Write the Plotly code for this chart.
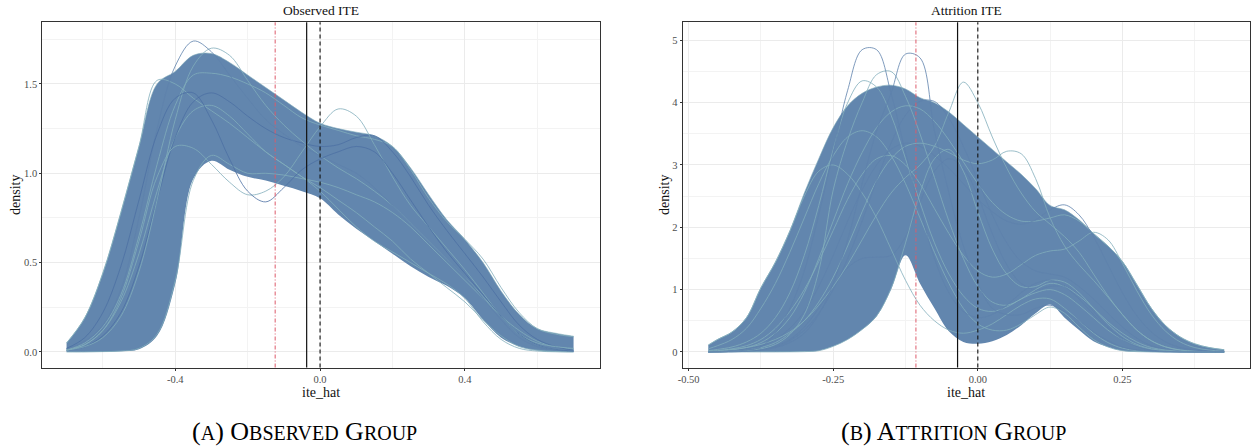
import plotly.graph_objects as go

# ---------------- data: Observed ITE panel (densities on a common grid) ----------------
OBS_X = [-0.70, -0.65, -0.60, -0.55, -0.50, -0.45, -0.40, -0.35, -0.30, -0.25, -0.20, -0.15,
         -0.10, -0.05, 0.00, 0.05, 0.10, 0.15, 0.20, 0.25, 0.30, 0.35, 0.40, 0.45, 0.50,
         0.55, 0.60, 0.65, 0.70]
obs_upper = [0.05, 0.19, 0.44, 0.78, 1.15, 1.50, 1.57, 1.66, 1.67, 1.62, 1.55, 1.48, 1.41, 1.34,
             1.28, 1.25, 1.23, 1.21, 1.15, 1.03, 0.88, 0.74, 0.63, 0.50, 0.34, 0.21, 0.13, 0.105, 0.088]
obs_lower = [0.0, 0.0, 0.0, 0.004, 0.015, 0.09, 0.38, 0.97, 1.07, 1.02, 0.98, 0.96, 0.93, 0.90,
             0.86, 0.77, 0.69, 0.62, 0.55, 0.48, 0.42, 0.37, 0.30, 0.18, 0.08, 0.03, 0.008, 0.002, 0.0]
obs_peak = [0.02, 0.06, 0.15, 0.35, 0.75, 1.25, 1.60, 1.74, 1.68, 1.55, 1.42, 1.30, 1.22, 1.15,
            1.10, 1.05, 1.00, 0.92, 0.82, 0.72, 0.62, 0.52, 0.42, 0.30, 0.18, 0.08, 0.03, 0.01, 0.005]
obs_p170 = [0.01, 0.03, 0.08, 0.20, 0.45, 0.85, 1.30, 1.60, 1.70, 1.66, 1.52, 1.38, 1.27, 1.18,
            1.10, 1.03, 0.97, 0.90, 0.82, 0.72, 0.62, 0.52, 0.42, 0.31, 0.20, 0.10, 0.04, 0.015, 0.005]
obs_bump = [0.01, 0.04, 0.12, 0.30, 0.62, 0.98, 1.15, 1.14, 1.05, 0.95, 0.88, 0.90, 0.98, 1.12,
            1.26, 1.36, 1.32, 1.16, 0.98, 0.82, 0.70, 0.58, 0.46, 0.33, 0.20, 0.10, 0.05, 0.03, 0.02]
obs_dip = [0.02, 0.08, 0.22, 0.48, 0.85, 1.22, 1.42, 1.45, 1.30, 1.08, 0.90, 0.84, 0.92, 1.02,
           1.08, 1.12, 1.15, 1.12, 1.00, 0.85, 0.70, 0.56, 0.44, 0.32, 0.20, 0.10, 0.04, 0.015, 0.005]
obs_r120 = [0.01, 0.03, 0.09, 0.22, 0.48, 0.85, 1.20, 1.40, 1.45, 1.40, 1.32, 1.25, 1.20, 1.17,
            1.15, 1.16, 1.20, 1.21, 1.12, 0.98, 0.82, 0.68, 0.55, 0.42, 0.28, 0.15, 0.07, 0.03, 0.01]
obs_late = [0.0, 0.0, 0.002, 0.005, 0.02, 0.10, 0.40, 0.96, 1.10, 1.05, 1.00, 1.00, 0.99, 0.97,
            0.95, 0.92, 0.88, 0.84, 0.78, 0.70, 0.60, 0.50, 0.40, 0.30, 0.20, 0.12, 0.06, 0.03, 0.015]
obs_early = [0.05, 0.19, 0.44, 0.78, 1.15, 1.52, 1.50, 1.42, 1.35, 1.28, 1.20, 1.12, 1.05, 0.98,
             0.92, 0.85, 0.78, 0.70, 0.62, 0.52, 0.44, 0.36, 0.28, 0.18, 0.09, 0.03, 0.01, 0.003, 0.001]
obs_high = [0.01, 0.05, 0.14, 0.32, 0.65, 1.05, 1.38, 1.55, 1.56, 1.54, 1.50, 1.45, 1.38, 1.31,
            1.27, 1.24, 1.21, 1.19, 1.15, 1.02, 0.86, 0.73, 0.63, 0.52, 0.36, 0.22, 0.13, 0.10, 0.085]
obs_low = [0.01, 0.04, 0.12, 0.28, 0.55, 0.90, 1.20, 1.35, 1.38, 1.32, 1.22, 1.12, 1.05, 0.98,
           0.90, 0.80, 0.70, 0.62, 0.56, 0.50, 0.44, 0.38, 0.30, 0.17, 0.07, 0.02, 0.005, 0.001, 0.0]

# ---------------- data: Attrition ITE panel ----------------
ATT_X = [-0.466, -0.45, -0.425, -0.40, -0.375, -0.35, -0.325, -0.30, -0.275, -0.25, -0.225, -0.20,
         -0.175, -0.15, -0.125, -0.10, -0.075, -0.05, -0.025, 0.00, 0.025, 0.05, 0.075, 0.10,
         0.125, 0.15, 0.175, 0.20, 0.225, 0.25, 0.275, 0.30, 0.325, 0.35, 0.375, 0.40, 0.426]
att_upper = [0.11, 0.20, 0.32, 0.55, 1.03, 1.44, 1.94, 2.55, 3.10, 3.60, 3.95, 4.15, 4.25, 4.28,
             4.22, 4.08, 4.00, 3.85, 3.65, 3.45, 3.25, 3.05, 2.85, 2.62, 2.35, 2.28, 2.12, 1.90,
             1.70, 1.45, 1.08, 0.70, 0.42, 0.24, 0.13, 0.07, 0.035]
att_lower = [0.0, 0.0, 0.0, 0.0, 0.0, 0.0, 0.0, 0.005, 0.02, 0.09, 0.20, 0.36, 0.57, 1.00, 1.55,
             1.10, 0.70, 0.33, 0.16, 0.13, 0.17, 0.27, 0.43, 0.62, 0.76, 0.55, 0.35, 0.17, 0.08,
             0.02, 0.005, 0.0, 0.0, 0.0, 0.0, 0.0, 0.0]
att_p503 = [0.0, 0.0, 0.01, 0.03, 0.08, 0.30, 0.70, 1.30, 2.20, 3.20, 4.20, 4.85, 4.85, 4.15, 3.20,
            2.30, 1.50, 0.95, 0.65, 0.55, 0.60, 0.75, 0.95, 1.10, 1.15, 1.05, 0.85, 0.60, 0.38,
            0.20, 0.09, 0.03, 0.01, 0.0, 0.0, 0.0, 0.0]
att_p489 = [0.0, 0.0, 0.0, 0.01, 0.03, 0.07, 0.15, 0.30, 0.60, 1.10, 1.80, 2.70, 3.55, 4.15, 4.78,
            4.72, 3.55, 2.55, 1.70, 1.10, 0.70, 0.60, 0.60, 0.70, 0.75, 0.65, 0.50, 0.32, 0.18,
            0.08, 0.03, 0.01, 0.0, 0.0, 0.0, 0.0, 0.0]
att_p455 = [0.0, 0.0, 0.01, 0.02, 0.05, 0.12, 0.28, 0.60, 1.30, 2.60, 3.40, 4.00, 4.45, 4.50, 4.10,
            3.50, 2.80, 2.10, 1.50, 1.05, 0.80, 0.75, 0.85, 1.00, 1.10, 1.05, 0.90, 0.70, 0.48,
            0.30, 0.16, 0.07, 0.03, 0.01, 0.0, 0.0, 0.0]
att_p440 = [0.02, 0.04, 0.08, 0.16, 0.30, 0.55, 0.95, 1.55, 2.35, 3.25, 4.00, 4.35, 4.25, 3.80,
            3.10, 2.40, 1.75, 1.25, 0.90, 0.70, 0.65, 0.72, 0.85, 0.95, 1.00, 0.92, 0.75, 0.55,
            0.35, 0.20, 0.10, 0.04, 0.015, 0.005, 0.0, 0.0, 0.0]
att_p405 = [0.0, 0.01, 0.02, 0.03, 0.05, 0.08, 0.18, 0.35, 0.62, 1.00, 1.50, 2.10, 2.75, 3.35,
            3.80, 4.02, 4.02, 3.75, 3.30, 2.75, 2.20, 1.75, 1.45, 1.30, 1.25, 1.20, 1.05, 0.85,
            0.62, 0.40, 0.22, 0.10, 0.04, 0.015, 0.0, 0.0, 0.0]
att_p436 = [0.01, 0.02, 0.04, 0.07, 0.12, 0.20, 0.32, 0.50, 0.75, 1.05, 1.40, 1.80, 2.20, 2.55,
            2.80, 3.00, 3.30, 3.85, 4.33, 4.00, 3.45, 2.95, 2.55, 2.25, 2.05, 1.85, 1.60, 1.25,
            0.90, 0.60, 0.35, 0.18, 0.08, 0.03, 0.01, 0.0, 0.0]
att_b325 = [0.0, 0.0, 0.01, 0.03, 0.07, 0.15, 0.30, 0.50, 0.80, 1.20, 1.70, 2.25, 2.75, 3.10, 3.30,
            3.35, 3.30, 3.20, 3.08, 3.02, 3.08, 3.22, 3.18, 2.78, 2.15, 1.70, 1.40, 1.15, 0.88,
            0.60, 0.35, 0.18, 0.08, 0.03, 0.01, 0.0, 0.0]
att_b237 = [0.0, 0.01, 0.02, 0.05, 0.10, 0.20, 0.38, 0.65, 1.05, 1.55, 2.10, 2.60, 3.00, 3.25,
            3.35, 3.30, 3.15, 2.95, 2.70, 2.45, 2.25, 2.10, 2.05, 2.12, 2.28, 2.36, 2.20, 1.85,
            1.40, 0.95, 0.58, 0.32, 0.16, 0.07, 0.03, 0.01, 0.0]
att_b193 = [0.01, 0.02, 0.05, 0.10, 0.20, 0.38, 0.65, 1.00, 1.45, 1.95, 2.45, 2.85, 3.10, 3.15,
            3.00, 2.70, 2.30, 1.90, 1.55, 1.30, 1.20, 1.25, 1.40, 1.55, 1.62, 1.65, 1.78, 1.92,
            1.80, 1.42, 0.98, 0.60, 0.33, 0.16, 0.07, 0.03, 0.01]
att_early = [0.11, 0.20, 0.32, 0.55, 1.03, 1.44, 1.94, 2.50, 2.90, 3.00, 2.85, 2.55, 2.15, 1.65,
             1.15, 0.75, 0.50, 0.35, 0.30, 0.35, 0.45, 0.60, 0.75, 0.85, 0.85, 0.70, 0.50, 0.30,
             0.15, 0.06, 0.02, 0.005, 0.0, 0.0, 0.0, 0.0, 0.0]
att_late = [0.0, 0.0, 0.0, 0.0, 0.0, 0.0, 0.002, 0.005, 0.02, 0.09, 0.20, 0.36, 0.58, 1.02, 1.75,
            2.55, 3.10, 3.25, 2.90, 2.25, 1.65, 1.25, 1.05, 1.05, 1.15, 1.12, 0.95, 0.70, 0.45,
            0.25, 0.12, 0.05, 0.02, 0.005, 0.0, 0.0, 0.0]
att_shelf = [0.0, 0.0, 0.01, 0.02, 0.05, 0.10, 0.20, 0.40, 0.70, 1.05, 1.35, 1.50, 1.52, 1.55,
             1.85, 2.40, 2.90, 3.10, 2.95, 2.50, 1.90, 1.40, 1.10, 1.00, 1.05, 1.05, 0.90, 0.65,
             0.40, 0.22, 0.10, 0.04, 0.01, 0.0, 0.0, 0.0, 0.0]
att_tail_hi = [0.0, 0.01, 0.03, 0.07, 0.15, 0.30, 0.55, 0.95, 1.50, 2.10, 2.70, 3.20, 3.60, 3.85,
               3.95, 3.90, 3.70, 3.40, 3.05, 2.70, 2.40, 2.20, 2.10, 2.10, 2.15, 2.20, 2.10, 1.90,
               1.70, 1.45, 1.08, 0.70, 0.42, 0.24, 0.13, 0.07, 0.035]
att_tail_lo = [0.05, 0.10, 0.20, 0.38, 0.70, 1.10, 1.60, 2.15, 2.70, 3.15, 3.45, 3.55, 3.45, 3.15,
               2.70, 2.15, 1.60, 1.10, 0.70, 0.45, 0.35, 0.35, 0.45, 0.60, 0.72, 0.62, 0.40, 0.20,
               0.08, 0.02, 0.005, 0.0, 0.0, 0.0, 0.0, 0.0, 0.0]

# reference lines (x positions)
obs_vlines = {"median": -0.124, "mean": -0.037, "zero": 0.0}
att_vlines = {"median": -0.107, "mean": -0.035, "zero": 0.0}

# tick labels
obs_xticks = [-0.4, 0.0, 0.4]
obs_xlabels = ["-0.4", "0.0", "0.4"]
obs_yticks = [0.0, 0.5, 1.0, 1.5]
obs_ylabels = ["0.0", "0.5", "1.0", "1.5"]
att_xticks = [-0.5, -0.25, 0.0, 0.25]
att_xlabels = ["-0.50", "-0.25", "0.00", "0.25"]
att_yticks = [0, 1, 2, 3, 4, 5]
att_ylabels = ["0", "1", "2", "3", "4", "5"]

# ---------------- styling ----------------
FILL = "#6286ae"
BLUE = "#5e81ac"
TEAL = "#82adbb"
DARK = "#4d70a3"
FONT = "Liberation Serif"
W, H = 1251, 448


def px_x(p):
    return p / W


def px_y(p):
    return 1 - p / H


fig = go.Figure()


def add_panel(xa, ya, x, upper, lower, curves):
    fig.add_trace(go.Scatter(x=x, y=lower, mode="lines", xaxis=xa, yaxis=ya,
                             line=dict(width=0, shape="spline", color=FILL),
                             hoverinfo="skip", showlegend=False))
    fig.add_trace(go.Scatter(x=x, y=upper, mode="lines", xaxis=xa, yaxis=ya,
                             line=dict(width=0.6, shape="spline", color=TEAL),
                             fill="tonexty", fillcolor=FILL, showlegend=False))
    for ys, col in curves:
        fig.add_trace(go.Scatter(x=x, y=ys, mode="lines", xaxis=xa, yaxis=ya,
                                 line=dict(width=0.8, shape="spline", color=col),
                                 showlegend=False))


add_panel("x", "y", OBS_X, obs_upper, obs_lower,
          [(obs_low, TEAL), (obs_late, TEAL), (obs_early, TEAL), (obs_high, TEAL),
           (obs_r120, DARK), (obs_p170, TEAL), (obs_peak, BLUE), (obs_bump, TEAL), (obs_dip, DARK)])
add_panel("x2", "y2", ATT_X, att_upper, att_lower,
          [(att_tail_lo, TEAL), (att_tail_hi, TEAL), (att_shelf, BLUE), (att_late, TEAL),
           (att_early, TEAL), (att_b193, TEAL), (att_b237, BLUE), (att_b325, TEAL),
           (att_p405, BLUE), (att_p440, TEAL), (att_p455, TEAL),
           (att_p436, TEAL), (att_p489, BLUE), (att_p503, BLUE)])

ydom = [px_y(367.5), px_y(22.3)]
axis_common = dict(showgrid=True, gridcolor="#ebebeb", gridwidth=1, zeroline=False,
                   showline=True, linecolor="#333333", linewidth=1, mirror=True,
                   ticks="outside", ticklen=2, tickcolor="#333333", tickwidth=1,
                   automargin=False,
                   tickfont=dict(family=FONT, size=10.5, color="#4d4d4d"))

fig.update_layout(
    template="none",
    width=W, height=H, margin=dict(l=0, r=0, t=0, b=0, pad=0),
    plot_bgcolor="white", paper_bgcolor="white", showlegend=False,
    font=dict(family=FONT, color="#000000"),
    xaxis=dict(domain=[px_x(42.3), px_x(600)], range=[-0.767, 0.773], anchor="y",
               tickvals=obs_xticks, ticktext=obs_xlabels,
               minor=dict(tickvals=[-0.6, -0.2, 0.2, 0.6], showgrid=True, gridcolor="#f3f3f3"),
               **axis_common),
    yaxis=dict(domain=ydom, range=[-0.087, 1.845], anchor="x",
               tickvals=obs_yticks, ticktext=obs_ylabels,
               minor=dict(tickvals=[0.25, 0.75, 1.25, 1.75], showgrid=True, gridcolor="#f3f3f3"),
               **axis_common),
    xaxis2=dict(domain=[px_x(682.5), px_x(1250)], range=[-0.5106, 0.4706], anchor="y2",
                tickvals=att_xticks, ticktext=att_xlabels,
                minor=dict(tickvals=[-0.375, -0.125, 0.125, 0.375], showgrid=True, gridcolor="#f3f3f3"),
                **axis_common),
    yaxis2=dict(domain=ydom, range=[-0.25, 5.29], anchor="x2",
                tickvals=att_yticks, ticktext=att_ylabels,
                minor=dict(tickvals=[0.5, 1.5, 2.5, 3.5, 4.5], showgrid=True, gridcolor="#f3f3f3"),
                **axis_common),
)

shapes = []
for xr, yr, vl in (("x", "y domain", obs_vlines), ("x2", "y2 domain", att_vlines)):
    shapes.append(dict(type="line", xref=xr, yref=yr, x0=vl["median"], x1=vl["median"], y0=0, y1=1,
                       line=dict(color="#dd5a6a", width=1, dash="4px,2px,1px,2px")))
    shapes.append(dict(type="line", xref=xr, yref=yr, x0=vl["mean"], x1=vl["mean"], y0=0, y1=1,
                       line=dict(color="#111111", width=1.2)))
    shapes.append(dict(type="line", xref=xr, yref=yr, x0=vl["zero"], x1=vl["zero"], y0=0, y1=1,
                       line=dict(color="#111111", width=1.1, dash="4px,3px")))
fig.update_layout(shapes=shapes)

SC = "<span style='font-size:20px'>"

ann = [
    dict(text="Observed ITE", x=px_x(321), y=px_y(10), font=dict(size=13.5, family=FONT, color="#111")),
    dict(text="Attrition ITE", x=px_x(966), y=px_y(10), font=dict(size=13.5, family=FONT, color="#111")),
    dict(text="ite_hat", x=px_x(321), y=px_y(392), font=dict(size=14, family=FONT, color="#111")),
    dict(text="ite_hat", x=px_x(966), y=px_y(392), font=dict(size=14, family=FONT, color="#111")),
    dict(text="density", x=px_x(15), y=px_y(195), textangle=-90, font=dict(size=14, family=FONT, color="#111")),
    dict(text="density", x=px_x(664), y=px_y(195), textangle=-90, font=dict(size=14, family=FONT, color="#111")),
    dict(text="(" + SC + "A</span>) O" + SC + "BSERVED</span> G" + SC + "ROUP</span>",
         x=px_x(304), y=px_y(431), font=dict(size=26, family=FONT, color="#000")),
    dict(text="(" + SC + "B</span>) A" + SC + "TTRITION</span> G" + SC + "ROUP</span>",
         x=px_x(953), y=px_y(431), font=dict(size=26, family=FONT, color="#000")),
]
for a in ann:
    a.update(xref="paper", yref="paper", showarrow=False, xanchor="center", yanchor="middle")
fig.update_layout(annotations=ann)

# remove the browser's default 8px body margin so the figure sits at the window's corner
fig.write_html("out.html", config={"displayModeBar": False},
               post_script="document.body.style.margin='0';")
